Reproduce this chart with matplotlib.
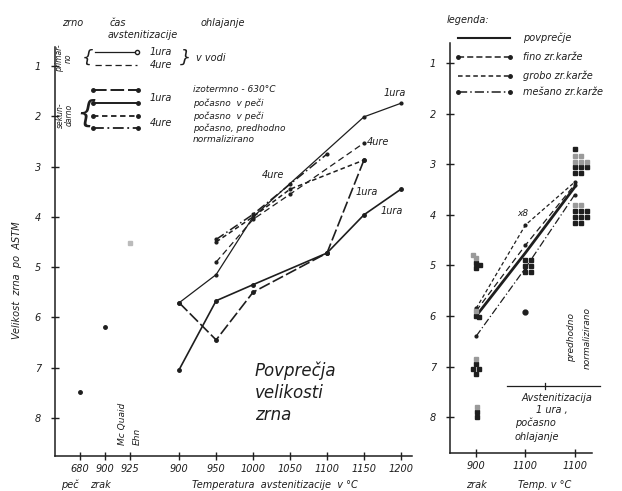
import matplotlib
matplotlib.use("Agg")
import matplotlib.pyplot as plt
from matplotlib.lines import Line2D

plt.rcParams["font.family"] = ["DejaVu Sans"]
plt.rcParams["font.style"] = "italic"

INK = "#1e1e1e"
W, H = 622, 491

# --- left panel: reference points (peč / zrak / McQuaid-Ehn) ---
ref_labels = ["680", "900", "925"]
ref_pos = [766, 800, 833]
ref_grain = [7.48, 6.2, 4.52]

# --- left panel: grain size vs austenitizing temperature ---
temp_ticks = [900, 950, 1000, 1050, 1100, 1150, 1200]

prim_1h_t = [900, 950, 1000, 1150, 1200]
prim_1h_g = [5.71, 5.15, 4.0, 2.01, 1.74]

prim_4h_t = [950, 1000, 1050, 1150]
prim_4h_g = [4.9, 4.05, 3.55, 2.53]

iso_1h_t = [900, 950, 1000, 1100, 1150]
iso_1h_g = [5.71, 6.45, 5.5, 4.72, 2.87]

slow_1h_t = [900, 950, 1000, 1100, 1150, 1200]
slow_1h_g = [7.04, 5.67, 5.35, 4.72, 3.96, 3.45]

slow_4h_t = [950, 1000, 1050, 1150]
slow_4h_g = [4.5, 4.0, 3.45, 2.87]

norm_4h_t = [950, 1000, 1050, 1100]
norm_4h_g = [4.45, 3.95, 3.35, 2.75]

# --- right panel ---
r_labels = ["900", "1100", "1100"]
r_pos = [0, 1, 2]
avg_g = [6.0, 4.75, 3.45]
fine_g = [5.9, 4.6, 3.4]
coarse_g = [5.85, 4.2, 3.35]
mixed_g = [6.4, 5.05, 3.6]

dark_x = [2.0, 2.12, 2.24, 2.0, 2.12, 2.0, 2.12, 2.24, 2.0, 2.12, 2.24, 2.0, 2.12,
          1.0, 1.12, 1.0, 1.12, 1.0, 1.12,
          0.0, 0.08, 0.0, 0.0, 0.06, 0.0, -0.06, 0.06, 0.0, 0.02, 0.02, 2.0]
dark_y = [3.06, 3.06, 3.06, 3.18, 3.18, 3.92, 3.92, 3.92, 4.04, 4.04, 4.04, 4.16, 4.16,
          4.9, 4.9, 5.02, 5.02, 5.12, 5.12,
          4.95, 5.0, 5.05, 6.0, 6.02, 6.95, 7.05, 7.05, 7.15, 7.9, 8.0, 2.7]
light_x = [2.0, 2.12, 2.0, 2.12, 2.24, 2.0, 2.12, -0.06, 0.0, 0.0, 0.0, 0.02]
light_y = [2.84, 2.84, 2.95, 2.95, 2.95, 3.8, 3.8, 4.8, 4.85, 5.9, 6.85, 7.8]
single_x = [1.0]
single_g = [5.93]


def fx(x):
    return x / W


def fy(y):
    return 1 - y / H


def ftext(x, y, s, size=7, **kw):
    kw.setdefault("ha", "left")
    kw.setdefault("va", "center")
    fig.text(fx(x), fy(y), s, fontsize=size, color=INK, **kw)


def fline(x0, x1, y, **kw):
    fig.add_artist(Line2D([fx(x0), fx(x1)], [fy(y), fy(y)], color=INK, **kw))


def style_axes(ax):
    for side in ["top", "right"]:
        ax.spines[side].set_visible(False)
    for side in ["left", "bottom"]:
        ax.spines[side].set_linewidth(1.1)
        ax.spines[side].set_color(INK)
    ax.tick_params(direction="inout", length=6, width=1, colors=INK, labelsize=7)
    ax.tick_params(axis="y", pad=7)
    ax.tick_params(axis="x", pad=3)


fig = plt.figure(figsize=(6.22, 4.91), dpi=100)

# ---------------- left panel ----------------
ax = fig.add_axes([fx(55), fy(456), (412 - 55) / W, (456 - 47) / H])
style_axes(ax)
ax.set_xlim(732, 1215)
ax.set_ylim(8.76, 0.62)
ax.set_yticks(range(1, 9))
ax.set_xticks(ref_pos + temp_ticks)
ax.set_xticklabels(ref_labels + [str(t) for t in temp_ticks])

ax.plot(ref_pos[:2], ref_grain[:2], "o", ms=2.5, color=INK, ls="none")
ax.plot(ref_pos[2:], ref_grain[2:], "s", ms=2.5, color="#bbbbbb", ls="none")

ax.plot(prim_1h_t, prim_1h_g, color=INK, lw=0.9, marker="o", ms=2)
ax.plot(prim_4h_t, prim_4h_g, color=INK, lw=0.9, ls=(0, (5, 3)), marker="o", ms=2)
ax.plot(iso_1h_t, iso_1h_g, color=INK, lw=1.2, ls=(0, (7, 2)), marker="o", ms=2.5)
ax.plot(slow_1h_t, slow_1h_g, color=INK, lw=1.2, marker="o", ms=2.5)
ax.plot(slow_4h_t, slow_4h_g, color=INK, lw=1.1, ls=(0, (3, 2)), marker="o", ms=2)
ax.plot(norm_4h_t, norm_4h_g, color=INK, lw=1.1, ls=(0, (6, 2, 1, 2)), marker="o", ms=2)

for x, y, s in [(1192, 1.54, "1ura"), (1169, 2.51, "4ure"), (1154, 3.5, "1ura"),
                (1188, 3.88, "1ura"), (1027, 3.17, "4ure")]:
    ax.text(x, y, s, fontsize=7, color=INK, ha="center", va="center")

ax.text(1002, 7.5, "Povprečja\nvelikosti\nzrna", fontsize=12, color=INK,
        ha="left", va="center", linespacing=1.3)

# Mc Quaid Ehn
ftext(122, 445, "Mc Quaid", size=6.5, rotation=90, ha="center", va="bottom")
ftext(137, 445, "Ehn", size=6.5, rotation=90, ha="center", va="bottom")

# axis titles
ftext(17, 280, "Velikost  zrna  po  ASTM", size=7, rotation=90, ha="center")
ftext(70, 485, "peč", ha="center")
ftext(100, 485, "zrak", ha="center")
ftext(275, 485, "Temperatura  avstenitizacije  v °C", ha="center")

# left legend
ftext(73, 23, "zrno", ha="center")
ftext(118, 23, "čas", ha="center")
ftext(143, 35, "avstenitizacije", ha="center")
ftext(223, 23, "ohlajanje", ha="center")
ftext(64, 58, "primar-\nno", size=5.5, rotation=90, ha="center", linespacing=1.0)
ftext(65, 115, "sekun-\ndarno", size=5.5, rotation=90, ha="center", linespacing=1.0)
ftext(88, 58, "{", size=13, ha="center")
ftext(186, 58, "}", size=13, ha="center")
ftext(86, 113, "{", size=22, ha="center")

fline(95, 137, 52, lw=0.9)
fig.add_artist(Line2D([fx(137)], [fy(52)], marker="o", ms=3, mfc="white", mec=INK, color=INK))
fline(95, 137, 65, lw=0.9, ls=(0, (5, 3)))
ftext(150, 52, "1ura")
ftext(150, 65, "4ure")
ftext(196, 58, "v vodi")

sec_styles = [
    dict(lw=1.4, ls=(0, (7, 2))),
    dict(lw=1.4, ls="-"),
    dict(lw=1.3, ls=(0, (3, 2))),
    dict(lw=1.3, ls=(0, (6, 2, 1, 2))),
]
sec_y = [90, 103, 116, 128]
for y, st in zip(sec_y, sec_styles):
    fline(93, 138, y, **st)
    fig.add_artist(Line2D([fx(93), fx(138)], [fy(y), fy(y)], ls="none",
                          marker="o", ms=2.5, color=INK))
ftext(150, 98, "1ura")
ftext(150, 123, "4ure")
for y, s in zip([90, 103, 116, 128, 140],
                ["izotermno - 630°C", "počasno  v peči", "počasno  v peči",
                 "počasno, predhodno", "normalizirano"]):
    ftext(193, y, s, size=6.5)

# ---------------- right panel ----------------
ax2 = fig.add_axes([fx(450), fy(453), (592 - 450) / W, (453 - 43) / H])
style_axes(ax2)
ax2.set_xlim(-0.53, 2.35)
ax2.set_ylim(8.71, 0.6)
ax2.set_yticks(range(1, 9))
ax2.set_xticks(r_pos)
ax2.set_xticklabels(r_labels)

ax2.plot(r_pos, avg_g, color=INK, lw=2.0)
ax2.plot(r_pos, fine_g, color=INK, lw=0.9, ls=(0, (5, 3)), marker="o", ms=2)
ax2.plot(r_pos, coarse_g, color=INK, lw=0.9, ls=(0, (3, 2)), marker="o", ms=2)
ax2.plot(r_pos, mixed_g, color=INK, lw=0.9, ls=(0, (6, 2, 1, 2)), marker="o", ms=2)
ax2.plot(dark_x, dark_y, "s", ms=2.6, color=INK, ls="none")
ax2.plot(light_x, light_y, "s", ms=2.4, color="#9a9a9a", ls="none")
ax2.plot(single_x, single_g, "o", ms=3.5, color=INK, ls="none")
ax2.text(0.95, 3.97, "x8", fontsize=6.5, color=INK, ha="center", va="center")

# right legend
ftext(468, 20, "legenda:", ha="center")
fline(458, 510, 38, lw=1.5)
fline(458, 510, 57, lw=1.1, ls=(0, (4, 2)))
fig.add_artist(Line2D([fx(458), fx(510)], [fy(57)] * 2, ls="none", marker="o", ms=2.5, color=INK))
fline(458, 510, 76, lw=1.1, ls=(0, (3, 2)))
fig.add_artist(Line2D([fx(510)], [fy(76)], ls="none", marker="o", ms=2.5, color=INK))
fline(458, 510, 92, lw=1.1, ls=(0, (6, 2, 1, 2)))
fig.add_artist(Line2D([fx(458), fx(510)], [fy(92)] * 2, ls="none", marker="o", ms=2.5, color=INK))
for y, s in zip([38, 57, 76, 92], ["povprečje", "fino zr.karže", "grobo zr.karže", "mešano zr.karže"]):
    ftext(523, y, s, size=7)

# annealing bracket and notes
fline(507, 600, 386, lw=0.9)
fig.add_artist(Line2D([fx(545), fx(545)], [fy(383), fy(389)], color=INK, lw=0.9))
ftext(557, 398, "Avstenitizacija", ha="center")
ftext(552, 410, "1 ura ,", ha="center")
ftext(515, 423, "počasno")
ftext(515, 437, "ohlajanje")
ftext(572, 338, "predhodno", size=6.5, rotation=90, ha="center")
ftext(587, 338, "normalizirano", size=6.5, rotation=90, ha="center")
ftext(476, 485, "zrak", ha="center")
ftext(545, 485, "Temp. v °C", ha="center")

fig.savefig("out.png", dpi=100, facecolor="white")
